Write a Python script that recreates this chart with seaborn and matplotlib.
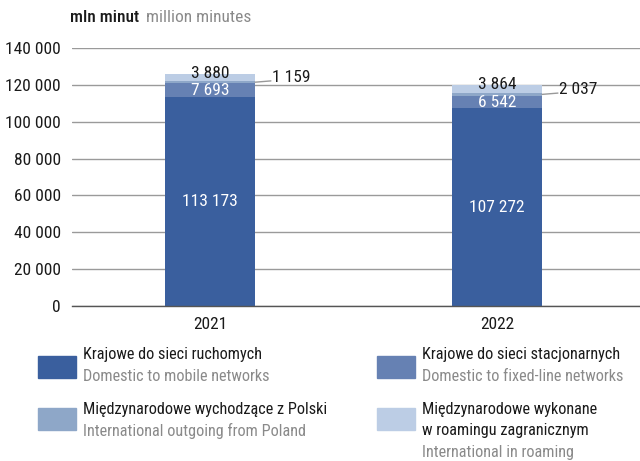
import matplotlib
matplotlib.use("Agg")
import matplotlib.pyplot as plt
import matplotlib.font_manager as fm
import seaborn as sns
import pandas as pd
import numpy as np

years = ["2021", "2022"]
mobile = [113173, 107272]
fixed = [7693, 6542]
intl_out = [1159, 2037]
roaming = [3880, 3864]

series_pl = ["Krajowe do sieci ruchomych", "Krajowe do sieci stacjonarnych",
             "Międzynarodowe wychodzące z Polski", "Międzynarodowe wykonane\nw roamingu zagranicznym"]
series_en = ["Domestic to mobile networks", "Domestic to fixed-line networks",
             "International outgoing from Poland", "International in roaming"]
colors = ["#3a5f9e", "#6681b3", "#8ea7c8", "#bccde5"]
yticks = [0, 20000, 40000, 60000, 80000, 100000, 120000, 140000]

sns.set_style("white")
names = {f.name for f in fm.fontManager.ttflist}
fam = [f for f in ["Liberation Sans Narrow", "Roboto Condensed", "Roboto", "DejaVu Sans"] if f in names]
plt.rcParams["font.family"] = fam + ["DejaVu Sans"]

fig = plt.figure(figsize=(6.4, 4.61), dpi=100)
ax = fig.add_axes([72/640, 1-306/461, 1-72/640, (306-48)/461])

layers = [mobile, fixed, intl_out, roaming]
cum = np.cumsum(np.array(layers), axis=0)
for i in range(3, -1, -1):
    df = pd.DataFrame({"year": years, "val": cum[i]})
    sns.barplot(data=df, x="year", y="val", color=colors[i], width=0.314,
                saturation=1, ax=ax, zorder=3, linewidth=0)

ax.set_xlim(-0.481, 1.498)
ax.set_ylim(0, 140000)
ax.set_yticks(yticks)
ax.set_yticklabels([f"{v:,}".replace(",", " ") for v in yticks], fontsize=12.5, color="#1a1a1a")
ax.set_xticks([0, 1])
ax.set_xticklabels(years, fontsize=12.5, color="#1a1a1a")
ax.tick_params(axis="both", length=0, pad=8)
ax.set_xlabel("")
ax.set_ylabel("")
ax.grid(axis="y", color="#9a9a9a", linewidth=1, zorder=0)
for s in ["top", "right", "left"]:
    ax.spines[s].set_visible(False)
ax.spines["bottom"].set_color("#555555")
ax.spines["bottom"].set_linewidth(1)
ax.spines["bottom"].set_zorder(4)

def fmt(v):
    return f"{v:,}".replace(",", " ")

hw = 0.157
for j in range(2):
    ax.text(j, mobile[j] / 2, fmt(mobile[j]), ha="center", va="center", color="white", fontsize=12.5, zorder=5)
    ax.text(j, mobile[j] + fixed[j] / 2, fmt(fixed[j]), ha="center", va="center", color="white", fontsize=12.5, zorder=5)
    mid_out = cum[1][j] + intl_out[j] / 2
    ax.plot([j + hw, j + hw + 0.055], [mid_out, mid_out + 700], color="#999999", lw=1, zorder=5, clip_on=False)
    ax.text(j + hw + 0.06, mid_out + 2500, fmt(intl_out[j]), ha="left", va="center", color="#1a1a1a", fontsize=12.5, zorder=5)
    ax.text(j, cum[2][j] + roaming[j] / 2 + 2200, fmt(roaming[j]), ha="center", va="center", color="#1a1a1a", fontsize=12.5, zorder=5)

fig.text(70/640, 1-18/461, "mln minut", ha="left", va="center", fontsize=12.5, color="#1a1a1a", fontweight="medium")
fig.text(146/640, 1-18/461, "million minutes", ha="left", va="center", fontsize=12.5, color="#8a8a8a")

# legend
pos = [(38, 356, 355), (377, 356, 355), (38, 408, 409), (377, 408, 409)]
for k, (x, py, ty) in enumerate(pos):
    fig.patches.append(plt.Rectangle((x/640, 1-(py+22)/461), 38/640, 22/461,
                                     transform=fig.transFigure, color=colors[k], figure=fig))
    for ln in series_pl[k].split("\n"):
        fig.text((x+45)/640, 1-ty/461, ln, ha="left", va="center", fontsize=11.7, color="#1a1a1a")
        ty += 21.5
    fig.text((x+45)/640, 1-ty/461, series_en[k], ha="left", va="center", fontsize=11.7, color="#8a8a8a")

fig.savefig("out.png", dpi=100)
